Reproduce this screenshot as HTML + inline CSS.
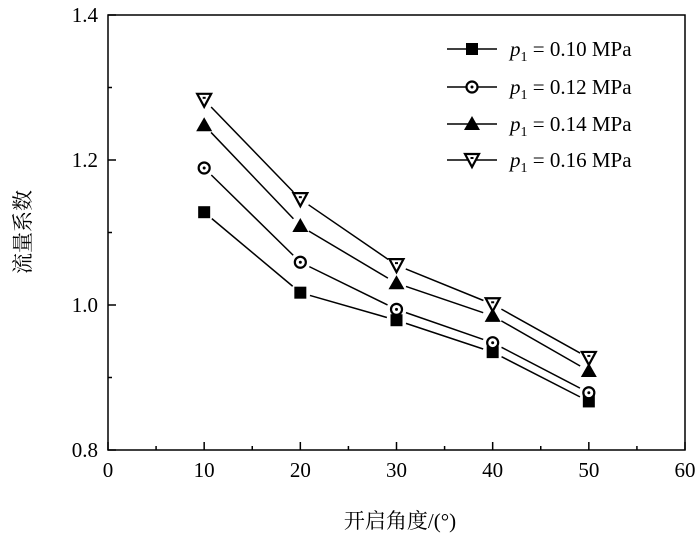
<!DOCTYPE html>
<html><head><meta charset="utf-8"><style>
body{margin:0;background:#fff;}
svg text{font-family:"Liberation Serif","Noto Serif CJK SC",serif;fill:#000;}
</style></head><body>
<svg id="chart" width="700" height="540" viewBox="0 0 700 540" xmlns="http://www.w3.org/2000/svg">
<rect x="108" y="15" width="577" height="435" fill="none" stroke="#000" stroke-width="1.5"/>
<g id="axes"></g>
<g id="series"></g>
<g id="legend"></g>
<text x="400" y="528" font-size="21" text-anchor="middle">开启角度/(°)</text>
<text transform="translate(30,232) rotate(-90)" font-size="21" text-anchor="middle">流量系数</text>
</svg>
<script>
const categories=[10,20,30,40,50];
const seriesNames=["0.10","0.12","0.14","0.16"];
const s010=[1.128,1.017,0.979,0.935,0.867];
const s012=[1.189,1.059,0.994,0.948,0.879];
const s014=[1.248,1.109,1.030,0.985,0.909];
const s016=[1.283,1.146,1.055,1.001,0.927];
const xTicks=[0,10,20,30,40,50,60];
const yTicks=[0.8,1.0,1.2,1.4];
const yMinor=[0.9,1.1,1.3];
const NS="http://www.w3.org/2000/svg";
const X=v=>108+(v-0)*(577/60);
const Y=v=>450-(v-0.8)*(435/0.6);
function mk(tag,attrs,parent){const e=document.createElementNS(NS,tag);for(const k in attrs)e.setAttribute(k,attrs[k]);parent.appendChild(e);return e;}
const axes=document.getElementById('axes');
xTicks.forEach(t=>{
 const l=mk('line',{x1:X(t),x2:X(t),y1:450,y2:442,stroke:'#000','stroke-width':1.5},axes);
 
 
 const tx=mk('text',{x:X(t),y:477,'font-size':21,'text-anchor':'middle'},axes);tx.textContent=t;
 
 
});
for(let t=5;t<60;t+=10){const l=mk('line',{x1:X(t),x2:X(t),y1:450,y2:446,stroke:'#000','stroke-width':1.5},axes);
 
 }
yTicks.forEach(t=>{
 const l=mk('line',{x1:108,x2:116,y1:Y(t),y2:Y(t),stroke:'#000','stroke-width':1.5},axes);
 
 
 const tx=mk('text',{x:98,y:Y(t)+7,'font-size':21,'text-anchor':'end'},axes);tx.textContent=t.toFixed(1);
 
 
});
yMinor.forEach(t=>{const l=mk('line',{x1:108,x2:112,y1:Y(t),y2:Y(t),stroke:'#000','stroke-width':1.5},axes);
 
 });
function marker(type,cx,cy,parent){
 let e;
 if(type==0) e=mk('rect',{x:cx-6,y:cy-6,width:12,height:12,fill:'#000'},parent);
 else if(type==1){e=mk('g',{},parent);mk('circle',{cx:cx,cy:cy,r:5.5,fill:'#fff',stroke:'#000','stroke-width':2.2},e);mk('circle',{cx:cx,cy:cy,r:1.5,fill:'#000'},e);}
 else if(type==2) e=mk('polygon',{points:`${cx},${cy-8} ${cx+8},${cy+6} ${cx-8},${cy+6}`,fill:'#000'},parent);
 else {e=mk('g',{},parent);mk('polygon',{points:`${cx-7},${cy-6} ${cx+7},${cy-6} ${cx},${cy+7}`,fill:'#fff',stroke:'#000','stroke-width':2.2},e);mk('rect',{x:cx-1.5,y:cy-3,width:3,height:2,fill:'#000'},e);}
 return e;
}
function seg(x1,y1,x2,y2,gap,parent){const dx=x2-x1,dy=y2-y1,L=Math.hypot(dx,dy),ux=dx/L,uy=dy/L;
 return mk('line',{x1:x1+ux*gap,y1:y1+uy*gap,x2:x2-ux*gap,y2:y2-uy*gap,stroke:'#000','stroke-width':1.5},parent);}
const all=[s010,s012,s014,s016];
const sg=document.getElementById('series');
all.forEach((vals,si)=>{
 const g=mk('g',{},sg);
 
 
 for(let i=0;i<vals.length-1;i++){const l=seg(X(categories[i]),Y(vals[i]),X(categories[i+1]),Y(vals[i+1]),10,g);
  
  }
 vals.forEach((v,i)=>{const m=marker(si,X(categories[i]),Y(v),g);
  
  });
});
const lg=document.getElementById('legend');
const ly=[49,87,124,160];
seriesNames.forEach((n,i)=>{
 const g=mk('g',{},lg);
 
 
 mk('line',{x1:447,x2:497,y1:ly[i],y2:ly[i],stroke:'#000','stroke-width':1.5},g);
 marker(i,472,ly[i],g);
 const t=mk('text',{x:510,y:ly[i]+7,'font-size':21},g);
 t.innerHTML=`<tspan font-style="italic">p</tspan><tspan font-size="14" dy="5">1</tspan><tspan dy="-5"> = ${n} MPa</tspan>`;
});
</script>
</body></html>
